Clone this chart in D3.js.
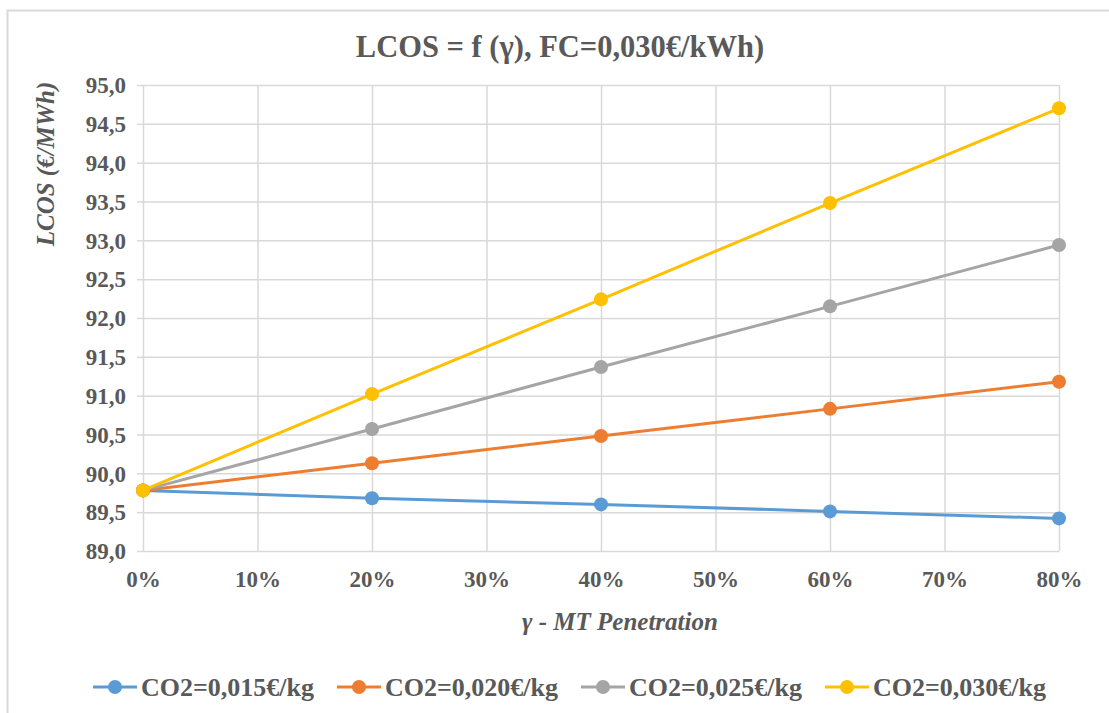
<!DOCTYPE html>
<html>
<head>
<meta charset="utf-8">
<script src="https://cdn.jsdelivr.net/npm/d3@7"></script>
<style>
  html, body { margin: 0; padding: 0; background: #fff; }
  svg text { font-family: "Liberation Serif", "Times New Roman", serif; fill: #595959; font-weight: bold; }
</style>
</head>
<body>
<svg id="chart" width="1109" height="713"></svg>
<script>
// MT penetration levels (fraction) and tick labels
const penetration = [0, 0.2, 0.4, 0.6, 0.8];
const xTicks = [0, 0.1, 0.2, 0.3, 0.4, 0.5, 0.6, 0.7, 0.8];
const yTicks = [89.0, 89.5, 90.0, 90.5, 91.0, 91.5, 92.0, 92.5, 93.0, 93.5, 94.0, 94.5, 95.0];

// LCOS (€/MWh) for each CO2 price
const seriesNames = ["CO2=0,015€/kg", "CO2=0,020€/kg", "CO2=0,025€/kg", "CO2=0,030€/kg"];
const lcos015 = [89.78, 89.68, 89.60, 89.51, 89.42];
const lcos020 = [89.78, 90.13, 90.48, 90.83, 91.18];
const lcos025 = [89.78, 90.57, 91.37, 92.15, 92.94];
const lcos030 = [89.78, 91.02, 92.24, 93.48, 94.70];
const seriesColors = ["#5B9BD5", "#ED7D31", "#A5A5A5", "#FFC000"];

const seriesValues = [lcos015, lcos020, lcos025, lcos030];

const svg = d3.select("#chart");

// chart frame
svg.append("rect")
  .attr("x", 7.5).attr("y", 10.5)
  .attr("width", 1120).attr("height", 720)
  .attr("fill", "#fff").attr("stroke", "#d9d9d9").attr("stroke-width", 2);

const plot = { left: 143, right: 1059, top: 85, bottom: 551 };

const x = d3.scaleLinear().domain([0, 0.8]).range([plot.left, plot.right]);
const y = d3.scaleLinear().domain([89, 95]).range([plot.bottom, plot.top]);

const fmtY = v => d3.format(".1f")(v).replace(".", ",");
const fmtX = v => d3.format(".0%")(v);

// horizontal gridlines with left tick marks
const yAxis = d3.axisLeft(y).tickValues(yTicks).tickFormat(fmtY)
  .tickSize(6).tickPadding(11);
const gy = svg.append("g").attr("transform", `translate(${plot.left},0)`).call(yAxis);
gy.select(".domain").remove();
gy.selectAll(".tick line").attr("stroke", "#d9d9d9").attr("stroke-width", 1.5);
gy.selectAll(".tick").append("line")
  .attr("x1", 0).attr("x2", plot.right - plot.left)
  .attr("stroke", "#d9d9d9").attr("stroke-width", 1.5);
gy.selectAll(".tick text").attr("font-size", 23).attr("dy", "0.34em")
  .style("font-family", "'Liberation Serif', serif").attr("fill", "#595959");

// vertical gridlines and x tick labels
const xAxis = d3.axisBottom(x).tickValues(xTicks).tickFormat(fmtX)
  .tickSize(0).tickPadding(20);
const gx = svg.append("g").attr("transform", `translate(0,${plot.bottom})`).call(xAxis);
gx.select(".domain").remove();
gx.selectAll(".tick").append("line")
  .attr("y1", 0).attr("y2", plot.top - plot.bottom)
  .attr("stroke", "#d9d9d9").attr("stroke-width", 1.5);
gx.selectAll(".tick text").attr("font-size", 23)
  .style("font-family", "'Liberation Serif', serif").attr("fill", "#595959");

// series lines and markers
const line = d3.line().x((d, i) => x(penetration[i])).y(d => y(d));
seriesValues.forEach((vals, s) => {
  svg.append("path").datum(vals)
    .attr("d", line).attr("fill", "none")
    .attr("stroke", seriesColors[s]).attr("stroke-width", 3)
    .attr("stroke-linejoin", "round");
  svg.append("g").selectAll("circle").data(vals).join("circle")
    .attr("cx", (d, i) => x(penetration[i])).attr("cy", d => y(d))
    .attr("r", 7).attr("fill", seriesColors[s]);
});

// title
svg.append("text").attr("x", 560).attr("y", 57).attr("text-anchor", "middle")
  .attr("font-size", 30.5).text("LCOS = f (γ), FC=0,030€/kWh)");

// axis titles
svg.append("text").attr("x", 620).attr("y", 630).attr("text-anchor", "middle")
  .attr("font-size", 25).attr("font-style", "italic").text("γ - MT Penetration");
svg.append("text").attr("transform", "translate(54,164) rotate(-90)")
  .attr("text-anchor", "middle").attr("font-size", 25).attr("font-style", "italic")
  .text("LCOS (€/MWh)");

// legend
const legend = svg.append("g");
let lx = 93;
seriesNames.forEach((name, s) => {
  const g = legend.append("g").attr("transform", `translate(${lx},687)`);
  g.append("line").attr("x1", 0).attr("x2", 44).attr("y1", 0).attr("y2", 0)
    .attr("stroke", seriesColors[s]).attr("stroke-width", 3);
  g.append("circle").attr("cx", 22).attr("cy", 0).attr("r", 7).attr("fill", seriesColors[s]);
  const t = g.append("text").attr("x", 48).attr("y", 8.5).attr("font-size", 26).text(name);
  lx += 48 + t.node().getComputedTextLength() + 23;
});
</script>
</body>
</html>
